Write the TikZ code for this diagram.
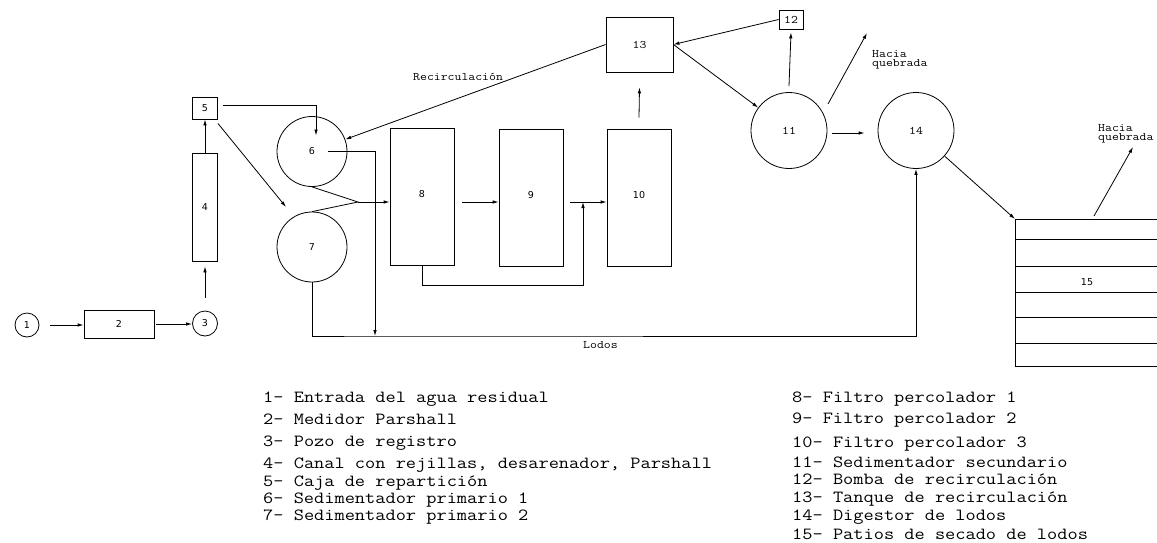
\documentclass[tikz,border=0pt]{standalone}
\usepackage{fontspec}
\setmainfont{DejaVu Sans}
\newfontfamily\monofont{Latin Modern Mono}[FakeStretch=1.165]
\newfontfamily\numsans{DejaVu Sans}
\usetikzlibrary{arrows.meta}
\begin{document}
\begin{tikzpicture}[x=1pt,y=-1pt,
  ln/.style={line width=0.8pt},
  arr/.style={ln,-{Latex[length=6pt,width=3.5pt]}},
  circ/.style={draw,ln,circle,inner sep=0pt,font=\numsans\fontsize{9.5}{11}\selectfont},
  mcirc/.style={draw,ln,circle,inner sep=0pt,font=\monofont\fontsize{11.5}{12}\selectfont},
  box/.style={draw,ln,rectangle,inner sep=0pt,font=\numsans\fontsize{9.5}{11}\selectfont},
  mbox/.style={draw,ln,rectangle,inner sep=0pt,font=\monofont\fontsize{11.5}{12}\selectfont},
  lbl/.style={inner sep=0pt,anchor=base west,font=\monofont\fontsize{11.5}{12}\selectfont},
  leg/.style={inner sep=0pt,anchor=base west,font=\monofont\fontsize{17}{18}\selectfont},
]
\useasboundingbox (0,0) rectangle (1157,542);

% nodes
\node[circ,minimum size=24pt] (c1) at (27,325) {1};
\node[box,minimum width=70pt,minimum height=28pt] (b2) at (119,324) {2};
\node[circ,minimum size=25pt] (c3) at (205,323.5) {3};
\node[box,minimum width=25pt,minimum height=108pt] (b4) at (205,207) {4};
\node[box,minimum width=25pt,minimum height=22pt] (b5) at (205,108) {5};
\node[circ,minimum size=70pt] (c6) at (312,151.5) {6};
\node[circ,minimum size=70pt] (c7) at (312,247) {7};
\node[box,minimum width=64pt,minimum height=137pt,text depth=5pt] (b8) at (422,196.5) {8};
\node[box,minimum width=64pt,minimum height=137pt,text depth=5pt] (b9) at (531,197.5) {9};
\node[box,minimum width=64pt,minimum height=137pt,text depth=5pt] (b10) at (639,197.5) {10};
\node[mbox,minimum width=67pt,minimum height=55pt] (b13) at (639.5,44.5) {13};
\node[mbox,minimum width=24pt,minimum height=19pt] (b12) at (791,19.5) {12};
\node[mcirc,minimum size=76pt] (c11) at (789,130.5) {11};
\node[mcirc,minimum size=76pt] (c14) at (916,130.5) {14};

% box 15 (drying beds)
\draw[ln] (1157,219) -| (1015,366) -- (1157,366);
\foreach \yy in {239,266,292,317,343} \draw[ln] (1015,\yy) -- (1157,\yy);
\node[inner sep=0pt,font=\numsans\fontsize{9.5}{11}\selectfont] (b15) at (1087,282) {15};

% coordinates
\coordinate (p15) at (1015,219);
\coordinate (q15) at (1094,216);
\coordinate (h2) at (1133,147);
\coordinate (h1) at (867,33);
\coordinate (t7) at (286,207);
\coordinate (j) at (358,202);
\coordinate (lb) at (375,336);
\coordinate (m9) at (583,202);

% connectors
\draw[arr] ([xshift=11pt]c1.east) -- (c1.east -| b2.west);
\draw[arr] ([xshift=2pt]b2.east) -- (b2.east -| c3.west);
\draw[arr] ([yshift=13pt]c3.north) -- ([yshift=-5pt]b4.south);
\draw[arr] (b4.north) -- (b5.south);
\draw[arr] ([shift={(5pt,3pt)}]b5.east) -| ([shift={(4pt,16pt)}]c6.center);
\draw[arr] ([shift={(0pt,-4pt)}]b5.south east) -- (t7);
\draw[ln] (c6.south) -- (j) -- (c7.north);
\draw[arr] (j) -- (j -| b8.west);
\draw[arr] ([xshift=16pt]c6.center) -| (lb);
\draw[arr] (c7.south) |- (lb) -| (c14.south);
\draw[arr] ([xshift=8pt]b8.east |- j) -- (b9.west |- j);
\draw[arr] ([xshift=7pt]b9.east |- j) -- (b10.west |- j);
\draw[arr] (b8.south) -- ++(0,20) -| (m9);
\draw[arr] ([yshift=11pt]b10.north) -- ([yshift=-15pt]b13.south);
\draw[arr] (b13.west) -- (c6);
\draw[arr] (b12.west) -- (b13.east);
\draw[arr] (b13.east) -- (c11);
\draw[arr] ([yshift=6pt]c11.north) -- ([yshift=-3pt]b12.south);
\draw[arr] ([shift={(39pt,26.5pt)}]c11.center) -- (h1);
\draw[arr] ([shift={(5pt,-2.5pt)}]c11.east) -- ([shift={(-13pt,-2.5pt)}]c14.west);
\draw[arr] (c14) -- (p15);
\draw[arr] (q15) -- (h2);

% labels
\node[lbl] (rec) at (413,80) {Recirculación};
\node[lbl] (lodos) at (583,348.5) {Lodos};
\node[lbl] (ha1) at (872,57) {Hacia};
\node[lbl] (hb1) at (872,66.5) {quebrada};
\node[lbl] (ha2) at (1098,131) {Hacia};
\node[lbl] (hb2) at (1098,140.5) {quebrada};

% legend
\node[leg] (l1) at (263,402) {1- Entrada del agua residual};
\node[leg] (l2) at (263,424) {2- Medidor Parshall};
\node[leg] (l3) at (263,446) {3- Pozo de registro};
\node[leg] (l4) at (263,468) {4- Canal con rejillas, desarenador, Parshall};
\node[leg] (l5) at (263,486) {5- Caja de repartición};
\node[leg] (l6) at (263,503) {6- Sedimentador primario 1};
\node[leg] (l7) at (263,520) {7- Sedimentador primario 2};
\node[leg] (l8) at (792,402) {8- Filtro percolador 1};
\node[leg] (l9) at (792,423) {9- Filtro percolador 2};
\node[leg] (l10) at (792,447) {10- Filtro percolador 3};
\node[leg] (l11) at (792,467) {11- Sedimentador secundario};
\node[leg] (l12) at (792,484) {12- Bomba de recirculación};
\node[leg] (l13) at (792,502) {13- Tanque de recirculación};
\node[leg] (l14) at (792,520) {14- Digestor de lodos};
\node[leg] (l15) at (792,539) {15- Patios de secado de lodos};
\end{tikzpicture}
\end{document}
